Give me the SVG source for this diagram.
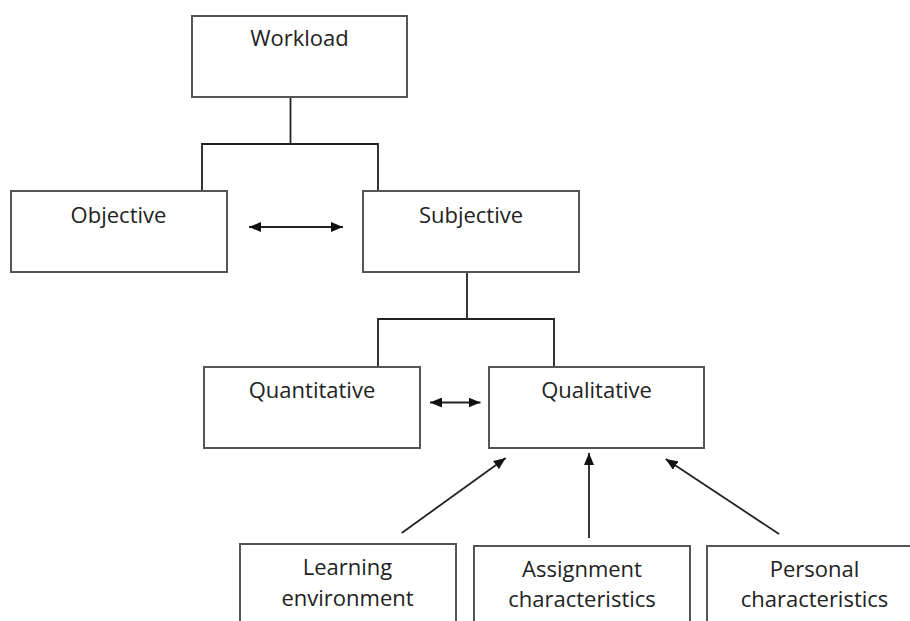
<svg xmlns="http://www.w3.org/2000/svg" width="910" height="621" viewBox="0 0 910 621">
<style>
.box{fill:#fff;stroke:#555;stroke-width:2}
.lbl{font-family:"Open Sans","Noto Sans",sans-serif;font-size:22px;fill:#222;text-anchor:middle}
.ln{fill:none;stroke:#222;stroke-width:1.8}
</style>
<defs>
<marker id="ah" viewBox="0 0 12 10" refX="12" refY="5" markerWidth="12" markerHeight="10" markerUnits="userSpaceOnUse" orient="auto-start-reverse">
<path d="M0,0 L12,5 L0,10 z" fill="#111"/>
</marker>
</defs>
<rect width="910" height="621" fill="#fff"/>
<g id="connectors">
<polyline class="ln" points="290.5,97 290.5,144"/>
<polyline class="ln" points="202,192 202,144 378,144 378,192"/>
<polyline class="ln" points="467,272 467,319"/>
<polyline class="ln" points="378,367 378,319 554,319 554,367"/>
<line class="ln" x1="249" y1="227" x2="343" y2="227" marker-start="url(#ah)" marker-end="url(#ah)"/>
<line class="ln" x1="430" y1="402.5" x2="480.5" y2="402.5" marker-start="url(#ah)" marker-end="url(#ah)"/>
<line class="ln" x1="401.7" y1="533" x2="505.7" y2="458" marker-end="url(#ah)"/>
<line class="ln" x1="589" y1="538" x2="589" y2="453" marker-end="url(#ah)"/>
<line class="ln" x1="779" y1="534" x2="665.7" y2="459" marker-end="url(#ah)"/>
</g>
<g id="workload"><rect class="box" x="192" y="16" width="215" height="81"/><text class="lbl" x="299.5" y="46">Workload</text></g>
<g id="objective"><rect class="box" x="11" y="191" width="216" height="81"/><text class="lbl" x="118.5" y="222.5">Objective</text></g>
<g id="subjective"><rect class="box" x="363" y="191" width="216" height="81"/><text class="lbl" x="471" y="222.5">Subjective</text></g>
<g id="quantitative"><rect class="box" x="204" y="367" width="216" height="81"/><text class="lbl" x="312" y="398">Quantitative</text></g>
<g id="qualitative"><rect class="box" x="489" y="367" width="215" height="81"/><text class="lbl" x="596.5" y="398">Qualitative</text></g>
<g id="learning"><rect class="box" x="240" y="544" width="216" height="90"/><text class="lbl" x="347.5" y="575">Learning</text><text class="lbl" x="347.5" y="606">environment</text></g>
<g id="assignment"><rect class="box" x="474" y="546" width="216" height="90"/><text class="lbl" x="582" y="577">Assignment</text><text class="lbl" x="582" y="607">characteristics</text></g>
<g id="personal"><rect class="box" x="707" y="546" width="216" height="90"/><text class="lbl" x="814.5" y="577">Personal</text><text class="lbl" x="814.5" y="607">characteristics</text></g>
</svg>
